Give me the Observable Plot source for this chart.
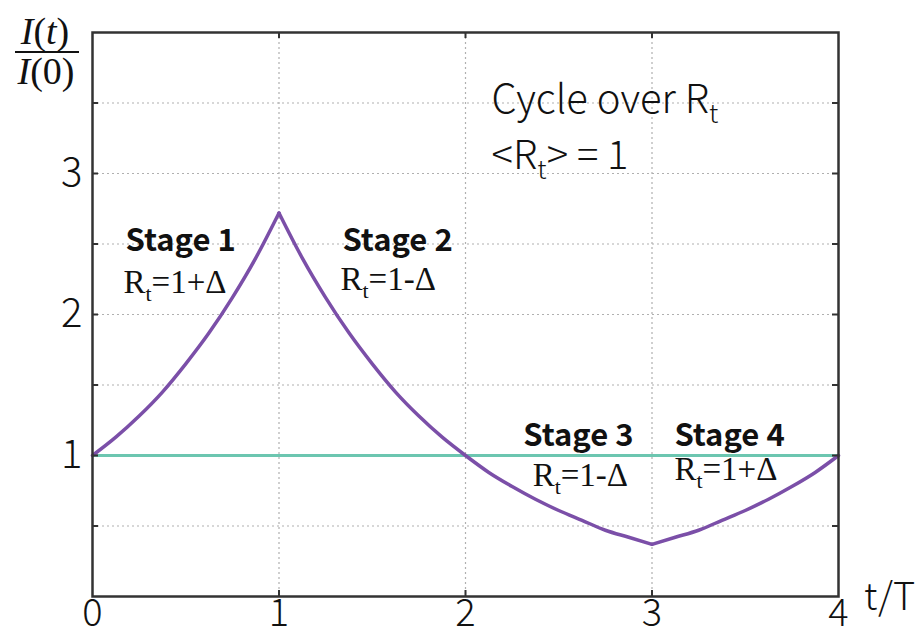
<!DOCTYPE html>
<html>
<head>
<meta charset="utf-8">
<script src="https://cdn.jsdelivr.net/npm/d3@7"></script>
<script src="https://cdn.jsdelivr.net/npm/@observablehq/plot@0.6"></script>
<style>
  html, body { margin: 0; padding: 0; background: #fff; }
  #chart { width: 922px; height: 641px; }
</style>
</head>
<body>
<div id="chart"></div>
<script>
// ---- data ----
const tValues = [0, 0.125, 0.25, 0.375, 0.5, 0.625, 0.75, 0.875, 1,
  1.125, 1.25, 1.375, 1.5, 1.625, 1.75, 1.875, 2,
  2.125, 2.25, 2.375, 2.5, 2.625, 2.75, 2.875, 3,
  3.125, 3.25, 3.375, 3.5, 3.625, 3.75, 3.875, 4];
const iValues = [1.00, 1.13, 1.28, 1.45, 1.65, 1.87, 2.12, 2.40, 2.72,
  2.40, 2.12, 1.87, 1.65, 1.45, 1.28, 1.13, 1.00,
  0.88, 0.78, 0.69, 0.61, 0.54, 0.47, 0.42, 0.37,
  0.42, 0.47, 0.54, 0.61, 0.69, 0.78, 0.88, 1.00];
const segmentBreaks = [[0, 1], [1, 3], [3, 4]];
const baseline = [1];

const xTickLabels = [0, 1, 2, 3, 4];
const yTickLabels = [1, 2, 3];
const yGridValues = [0.5, 1, 1.5, 2, 2.5, 3, 3.5];
const xGridValues = [1, 2, 3];

const stageTitles = ["Stage 1", "Stage 2", "Stage 3", "Stage 4"];
const stageTitleX = [0.177, 1.34, 2.31, 3.12];
const stageTitleY = [2.52, 2.52, 1.14, 1.14];
const stageRules = ["R_t=1+Δ", "R_t=1-Δ", "R_t=1-Δ", "R_t=1+Δ"];
const stageRuleX = [0.166, 1.33, 2.36, 3.12];
const stageRuleY = [2.23, 2.25, 0.86, 0.90];
const noteLines = ["Cycle over R_t", "<R_t> = 1"];
const noteX = [2.14, 2.14];
const noteY = [3.52, 3.12];

// ---- build tables ----
const curveRows = [];
segmentBreaks.forEach(([a, b], s) => {
  tValues.forEach((t, i) => { if (t >= a && t <= b) curveRows.push({t, v: iValues[i], seg: s}); });
});
const titles = stageTitles.map((text, i) => ({text, x: stageTitleX[i], y: stageTitleY[i]}));
const rules = stageRules.map((text, i) => ({text, x: stageRuleX[i], y: stageRuleY[i]}));
const notes = noteLines.map((text, i) => ({text, x: noteX[i], y: noteY[i]}));

const W = 922, H = 641, mL = 92, mR = 84, mT = 32, mB = 45;
const innerW = W - mL - mR, innerH = H - mT - mB;
const sans = "'Noto Sans CJK JP', 'Noto Sans', sans-serif";
const serif = "'Liberation Serif', 'DejaVu Serif', serif";

const chart = Plot.plot({
  width: W, height: H,
  marginLeft: mL, marginRight: mR, marginTop: mT, marginBottom: mB,
  x: {domain: [0, 4]},
  y: {domain: [0, 4]},
  style: {fontFamily: sans, background: "#fff", color: "#111"},
  marks: [
    Plot.gridY(yGridValues, {stroke: "#b0b0b0", strokeOpacity: 1, strokeDasharray: "2,3", strokeWidth: 1.2}),
    Plot.gridX(xGridValues, {stroke: "#b0b0b0", strokeOpacity: 1, strokeDasharray: "2,3", strokeWidth: 1.2}),
    Plot.ruleY(baseline, {stroke: "#6cc6b0", strokeWidth: 3}),
    Plot.line(curveRows, {x: "t", y: "v", z: "seg", curve: "monotone-x", stroke: "#7b4fa8", strokeWidth: 3.5}),
    Plot.frame({stroke: "#333", strokeWidth: 2.5}),
    Plot.tickY(yGridValues, {insetRight: innerW - 6, stroke: "#333", strokeWidth: 2}),
    Plot.tickY(yGridValues, {insetLeft: innerW - 6, stroke: "#333", strokeWidth: 2}),
    Plot.tickX(xGridValues, {insetTop: innerH - 6, stroke: "#333", strokeWidth: 2}),
    Plot.tickX(xGridValues, {insetBottom: innerH - 6, stroke: "#333", strokeWidth: 2}),
    Plot.axisX({ticks: xTickLabels, tickFormat: d => String(d), tickSize: 0, tickPadding: 3, fontSize: 38, fontWeight: 300, label: null, fill: "#111"}),
    Plot.axisY({ticks: yTickLabels, tickFormat: d => String(d), tickSize: 0, tickPadding: 10, fontSize: 40, fontWeight: 300, label: null, fill: "#111"}),
    Plot.text(titles, {x: "x", y: "y", text: "text", textAnchor: "start", fontSize: 31, fontWeight: "bold", fontFamily: sans, fill: "#111"}),
    Plot.text(rules, {x: "x", y: "y", text: "text", textAnchor: "start", fontSize: 33, fontFamily: serif, fill: "#111"}),
    Plot.text(notes, {x: "x", y: "y", text: "text", textAnchor: "start", fontSize: 40, fontFamily: sans, fontWeight: 300, fill: "#111"})
  ]
});

document.getElementById("chart").appendChild(chart);

// subscripts: replace "_t" with a real subscript tspan
d3.select(chart).selectAll("text").each(function () {
  const el = this;
  const content = el.textContent;
  if (!content.includes("_t")) return;
  const fs = parseFloat(getComputedStyle(el).fontSize) || 30;
  const parts = content.split("_t");
  while (el.firstChild) el.removeChild(el.firstChild);
  const sel = d3.select(el);
  parts.forEach((p, i) => {
    if (i > 0) {
      sel.append("tspan").attr("dy", fs * 0.25).attr("font-size", fs * 0.66).text("t");
      sel.append("tspan").attr("dy", -fs * 0.25).text(p);
    } else {
      sel.append("tspan").text(p);
    }
  });
});

// axis titles outside the frame
const svg = d3.select(chart);
const frac = svg.append("g").attr("font-family", serif).attr("font-size", 38).attr("fill", "#111").attr("text-anchor", "middle");
const num = frac.append("text").attr("x", 45).attr("y", 44);
num.append("tspan").attr("font-style", "italic").text("I");
num.append("tspan").text("(");
num.append("tspan").attr("font-style", "italic").text("t");
num.append("tspan").text(")");
frac.append("line").attr("x1", 15).attr("x2", 79).attr("y1", 52).attr("y2", 52).attr("stroke", "#111").attr("stroke-width", 1.8);
const den = frac.append("text").attr("x", 46).attr("y", 84);
den.append("tspan").attr("font-style", "italic").text("I");
den.append("tspan").text("(0)");

svg.append("text").attr("x", 864).attr("y", 610).attr("text-anchor", "start").attr("font-family", sans).attr("font-size", 38).attr("font-weight", 300).attr("fill", "#111").text("t/T");
</script>
</body>
</html>
